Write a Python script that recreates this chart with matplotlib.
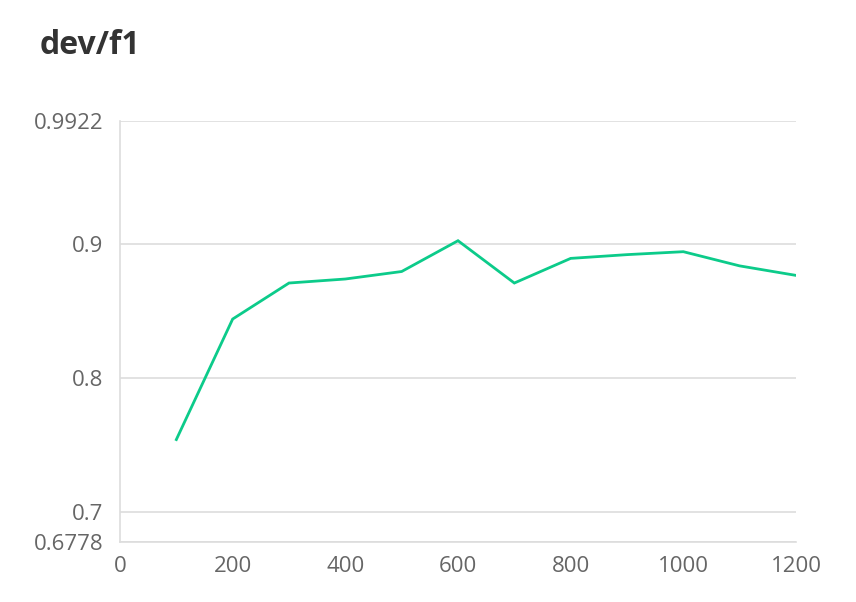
import matplotlib
matplotlib.use("Agg")
import matplotlib.pyplot as plt

steps = [100, 200, 300, 400, 500, 600, 700, 800, 900, 1000, 1100, 1200]
f1 = [0.7543, 0.8443, 0.8712, 0.8742, 0.8798, 0.9028, 0.8712, 0.8896, 0.8924, 0.8946, 0.8840, 0.8769]
y_ticks = [0.6778, 0.7, 0.8, 0.9, 0.9922]
y_labels = ["0.6778", "0.7", "0.8", "0.9", "0.9922"]
x_ticks = [0, 200, 400, 600, 800, 1000, 1200]

plt.rcParams["font.family"] = ["Open Sans", "DejaVu Sans"]
fig = plt.figure(figsize=(8.56, 6.02), dpi=100)
ax = fig.add_axes([120/856, 1 - 542/602, 676/856, 421/602])

ax.plot(steps, f1, color="#0ccb8a", lw=2.0, solid_joinstyle="miter")
ax.set_xlim(0, 1200); ax.set_ylim(y_ticks[0], y_ticks[-1])
ax.set_yticks(y_ticks, y_labels); ax.set_xticks(x_ticks)
ax.grid(axis="y", color="#dddddd", lw=1.2)
for s in ["top", "right"]: ax.spines[s].set_visible(False)
for s in ["left", "bottom"]: ax.spines[s].set_color("#dddddd"); ax.spines[s].set_linewidth(1.2)
ax.tick_params(length=0, labelsize=16, colors="#666666")
ax.tick_params(axis="y", pad=12)
ax.tick_params(axis="x", pad=10)
fig.text(40/856, 1 - 45/602, "dev/f1", fontsize=23, fontweight="bold", color="#333333", va="center")
fig.savefig("out.png", dpi=100)
